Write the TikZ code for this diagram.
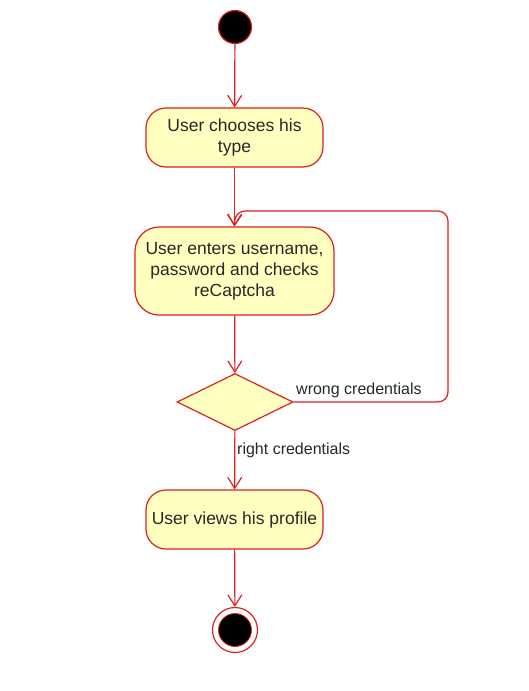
\documentclass[tikz,border=0pt]{standalone}
\usepackage{fontspec}
\setmainfont{Liberation Sans}
\usetikzlibrary{arrows.meta,shapes.geometric}
\definecolor{umlred}{RGB}{222,32,32}
\definecolor{umlfill}{RGB}{255,255,192}
\definecolor{umltext}{RGB}{40,40,40}
\begin{document}
\begin{tikzpicture}[x=1pt,y=-1pt,
  act/.style={draw=umlred, fill=umlfill, line width=1.2pt, rounded corners=20pt,
    inner sep=0pt, align=center, text=umltext,
    font=\fontsize{17.5}{21}\selectfont},
  flow/.style={draw=umlred, line width=1.2pt, -{Straight Barb[length=11pt,width=14pt,line width=1.2pt]}},
  lbl/.style={text=umltext, font=\fontsize{16}{19}\selectfont, inner sep=0pt}
]
\useasboundingbox (0,0) rectangle (529,691);
\fill[white] (0,0) rectangle (529,691);
\node[circle, draw=umlred, fill=black, line width=1.2pt, minimum size=33pt, inner sep=0pt] (start) at (235,27) {};
\node[act, minimum width=177pt, minimum height=59pt] (choose) at (234.5,137.5) {User chooses his\\type};
\node[act, rounded corners=24pt, minimum width=199pt, minimum height=88pt] (enter) at (234.5,271) {User enters username,\\password and checks\\reCaptcha};
\node[diamond, draw=umlred, fill=umlfill, line width=1.2pt, minimum width=116pt, minimum height=57pt, inner sep=0pt] (dec) at (235,402) {};
\node[act, minimum width=177pt, minimum height=59pt] (view) at (234.5,519.5) {User views his profile};
\node[circle, draw=umlred, fill=white, line width=1.2pt, minimum size=45pt, inner sep=0pt] (end) at (235,630) {};
\node[circle, draw=umlred, fill=black, line width=0.8pt, minimum size=33pt, inner sep=0pt] (endin) at (235,630) {};
\coordinate (lpA) at (448,402);
\coordinate (lpB) at (448,211);
\coordinate (lpC) at (235,211);
\draw[flow] (start) -- (choose);
\draw[flow] (choose) -- (enter);
\draw[flow] (enter) -- (dec);
\draw[flow, rounded corners=10pt] (dec.east) -- (lpA) -- (lpB) -- (lpC) -- (enter.north);
\draw[flow] (dec) -- (view);
\draw[flow] (view) -- (end);
\node[lbl, anchor=west] (wrong) at (296,390) {wrong credentials};
\node[lbl, anchor=west] (right) at (237,450) {right credentials};
\end{tikzpicture}
\end{document}
